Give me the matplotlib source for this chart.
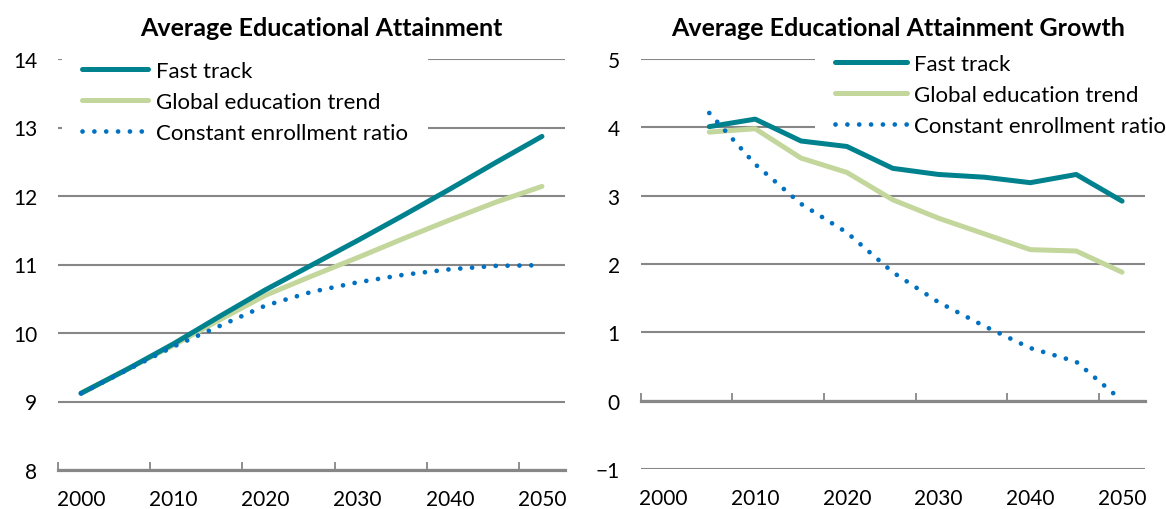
import matplotlib
matplotlib.use("Agg")
import matplotlib.pyplot as plt
import numpy as np

plt.rcParams['font.family'] = ['Lato', 'DejaVu Sans']

years = [2000, 2005, 2010, 2015, 2020, 2025, 2030, 2035, 2040, 2045, 2050]
tick_labels = ["2000", "2010", "2020", "2030", "2040", "2050"]
series_names = ["Fast track", "Global education trend", "Constant enrollment ratio"]

# average years of education
level_fast = [9.12, 9.47, 9.84, 10.24, 10.63, 10.99, 11.35, 11.72, 12.10, 12.49, 12.87]
level_trend = [9.12, 9.47, 9.82, 10.19, 10.55, 10.83, 11.10, 11.38, 11.65, 11.91, 12.14]
level_const = [9.12, 9.46, 9.80, 10.10, 10.40, 10.60, 10.74, 10.85, 10.93, 10.98, 10.99]

# growth, starts at 2005
growth_fast = [4.01, 4.12, 3.80, 3.72, 3.40, 3.31, 3.27, 3.19, 3.31, 2.92]
growth_trend = [3.93, 3.98, 3.55, 3.34, 2.94, 2.67, 2.44, 2.21, 2.19, 1.88]
growth_const = [4.21, 3.46, 2.88, 2.46, 1.88, 1.44, 1.09, 0.77, 0.57, 0.0]

TEAL = "#00818E"
GREEN = "#C3D69B"
BLUE = "#0070C0"
GRID = "#878787"
FS = 15      # tick labels
LFS = 16     # legend
TFS = 18     # titles

W, H = 1166, 510
fig = plt.figure(figsize=(W / 100, H / 100), dpi=100)


def px(x0, y0, x1, y1):
    return [x0 / W, 1 - y1 / H, (x1 - x0) / W, (y1 - y0) / H]


def draw(ax, xs, a, b, c):
    l1, = ax.plot(xs, a, color=TEAL, lw=3.6, solid_capstyle='round', zorder=4)
    l2, = ax.plot(xs, b, color=GREEN, lw=3.6, solid_capstyle='round', zorder=3)
    l3, = ax.plot(xs, c, color=BLUE, lw=3.4, linestyle=(0, (0.01, 2.5)),
                  dash_capstyle='round', zorder=5)
    return [l1, l2, l3]


def style(ax, ylo, yhi):
    n = len(years)
    ax.set_xlim(-0.5, n - 0.5)
    ax.set_ylim(ylo, yhi)
    for s in ['top', 'left', 'right']:
        ax.spines[s].set_visible(False)
    ax.spines['bottom'].set_color(GRID)
    ax.spines['bottom'].set_linewidth(2.3)
    ax.spines['bottom'].set_zorder(2)
    ax.set_yticks(np.arange(ylo, yhi + 1))
    ax.tick_params(axis='y', length=0, pad=15, labelsize=FS)
    ax.yaxis.grid(True, color=GRID, lw=1.5)
    ax.set_axisbelow(True)
    ax.set_xticks(np.arange(-0.5, n - 1, 2))
    ax.tick_params(axis='x', which='major', direction='in', length=6,
                   width=1.3, color=GRID, labelbottom=False)


def legend(ax, h, x, y, hl):
    leg = ax.legend(h, series_names, loc='upper left',
                    bbox_to_anchor=(x / W, 1 - y / H), bbox_transform=fig.transFigure,
                    fontsize=LFS, frameon=True, facecolor='white', edgecolor='none',
                    framealpha=1, fancybox=False, borderpad=0.9, borderaxespad=0,
                    handlelength=hl, handletextpad=0.35, labelspacing=0.5)
    # above the gridlines, below the data lines
    leg.set_zorder(2.5)


def xlabels(ax):
    sec = ax.secondary_xaxis(0)
    sec.set_xticks(np.arange(0, len(years), 2), tick_labels)
    sec.tick_params(length=0, pad=14, labelsize=FS)
    sec.spines['bottom'].set_visible(False)


xs = np.arange(len(years))

# left panel
ax1 = fig.add_axes(px(58, 60, 565, 471))
h = draw(ax1, xs, level_fast, level_trend, level_const)
style(ax1, 8, 14)
xlabels(ax1)
legend(ax1, h, 61.5, 42, 3.0)
fig.text(321 / W, 1 - 36 / H, "Average Educational Attainment", ha='center',
         va='baseline', fontsize=TFS, fontweight='bold')

# right panel
ax2 = fig.add_axes(px(640.5, 60, 1145, 470))
h = draw(ax2, xs[1:], growth_fast, growth_trend, growth_const)
style(ax2, -1, 5)
ax2.spines['bottom'].set_position(('data', 0))
xlabels(ax2)
legend(ax2, h, 815.5, 35, 3.2)
fig.text(898 / W, 1 - 36 / H, "Average Educational Attainment Growth", ha='center',
         va='baseline', fontsize=TFS, fontweight='bold')

fig.savefig("out.png", dpi=100)
